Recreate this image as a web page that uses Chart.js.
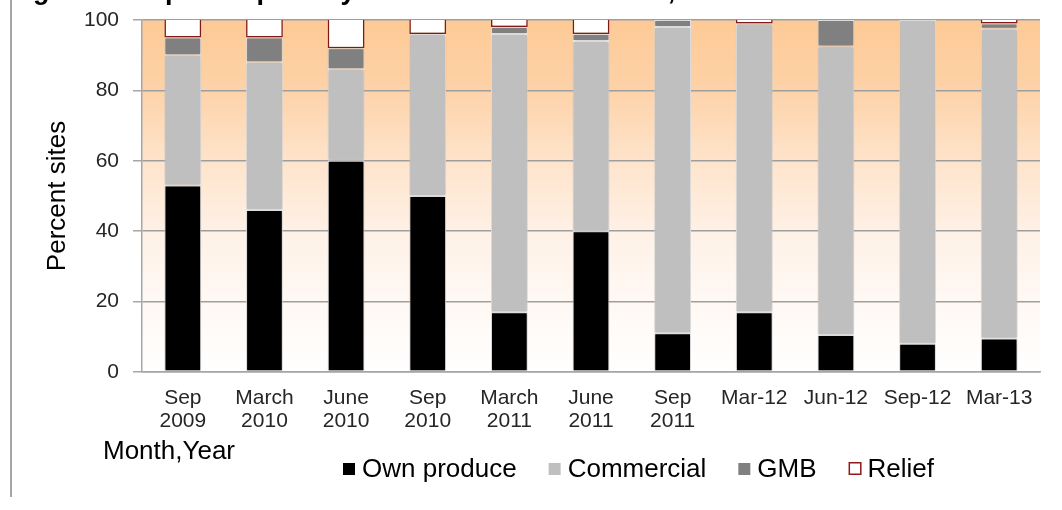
<!DOCTYPE html>
<html>
<head>
<meta charset="utf-8">
<title>Reported primary source of maize</title>
<script src="https://cdn.jsdelivr.net/npm/chart.js@4.4.1/dist/chart.umd.min.js"></script>
<style>
  html, body { margin: 0; padding: 0; background: #ffffff; }
  #wrap { width: 1062px; height: 510px; position: relative; }
  canvas { display: block; }
</style>
</head>
<body>
<div id="wrap"><canvas id="chart" width="1062" height="510"></canvas></div>
<script>
// Survey rounds (month, year)
const categories = [
  ['Sep', '2009'], ['March', '2010'], ['June', '2010'], ['Sep', '2010'],
  ['March', '2011'], ['June', '2011'], ['Sep', '2011'],
  'Mar-12', 'Jun-12', 'Sep-12', 'Mar-13'
];

// Percent of sites by primary source
const ownProduce = [53, 46, 60, 50, 17, 40, 11, 17, 10.5, 8, 9.5];
const commercial = [37, 42, 26, 46, 79, 54, 87, 82, 82, 92, 88];
const gmb        = [5, 7, 6, null, 2, 2, 2, null, 7.5, null, 1.5];
const relief     = [5, 5, 8, 4, 2, 4, null, 1, null, null, 1];

const yTicks = [0, 20, 40, 60, 80, 100];

const FONT = "'Liberation Sans', Arial, sans-serif";

// Peach-to-white wash behind the plot
const plotBackground = {
  id: 'plotBackground',
  beforeDraw(chart) {
    const { ctx, chartArea: a } = chart;
    const g = ctx.createLinearGradient(0, a.top, 0, a.bottom);
    g.addColorStop(0.00, '#FDCA96');
    g.addColorStop(0.18, '#FDD1A6');
    g.addColorStop(0.42, '#FEE5CE');
    g.addColorStop(0.62, '#FEF2E8');
    g.addColorStop(0.82, '#FFF9F5');
    g.addColorStop(1.00, '#FFFFFF');
    ctx.save();
    ctx.fillStyle = g;
    ctx.fillRect(a.left, a.top, a.right - a.left, a.bottom - a.top);
    ctx.restore();
  }
};

// Soft drop shadow under the bar segments
const barShadow = {
  id: 'barShadow',
  beforeDatasetsDraw(chart) {
    const ctx = chart.ctx;
    ctx.save();
    ctx.shadowColor = 'rgba(0,0,0,0.22)';
    ctx.shadowBlur = 4;
    ctx.shadowOffsetX = 0;
    ctx.shadowOffsetY = 0;
  },
  afterDatasetsDraw(chart) {
    chart.ctx.restore();
  }
};

// Frame line, caption, x-axis caption and legend
const decorations = {
  id: 'decorations',
  afterDraw(chart) {
    const ctx = chart.ctx;
    ctx.save();

    // left frame rule
    ctx.fillStyle = '#A6A6A6';
    ctx.fillRect(10, 0, 2, 497);

    // caption (clipped by the top edge)
    ctx.fillStyle = '#000000';
    ctx.font = 'bold 27px ' + FONT;
    ctx.textBaseline = 'alphabetic';
    ctx.textAlign = 'left';
    ctx.fillText('Figure 3: Reported primary source of maize at sites, 2009\u20132013', 9, -1);

    // x-axis caption
    ctx.font = '26px ' + FONT;
    ctx.fillText('Month,Year', 103, 459);

    // legend
    let x = 343;
    const boxTop = 463, box = 12, baseline = 477;
    chart.data.datasets.forEach(ds => {
      if (ds.label === 'Relief') {
        ctx.fillStyle = '#FFFFFF';
        ctx.fillRect(x, boxTop - 1, box + 1, box + 1);
        ctx.strokeStyle = ds.borderColor;
        ctx.lineWidth = 1.5;
        ctx.strokeRect(x + 0.75, boxTop - 0.25, box - 0.5, box - 0.5);
      } else {
        ctx.fillStyle = ds.backgroundColor;
        ctx.fillRect(x, boxTop, box, box);
      }
      ctx.fillStyle = '#000000';
      ctx.font = '26px ' + FONT;
      ctx.fillText(ds.label, x + 19, baseline);
      x += 19 + ctx.measureText(ds.label).width + 32;
    });

    ctx.restore();
  }
};

const segmentBorder = '#EFEFEF';

new Chart(document.getElementById('chart'), {
  type: 'bar',
  data: {
    labels: categories,
    datasets: [
      { label: 'Own produce', data: ownProduce, backgroundColor: '#000000',
        borderColor: segmentBorder, borderWidth: 1, borderSkipped: false },
      { label: 'Commercial', data: commercial, backgroundColor: '#BFBFBF',
        borderColor: segmentBorder, borderWidth: 1, borderSkipped: false },
      { label: 'GMB', data: gmb, backgroundColor: '#808080',
        borderColor: segmentBorder, borderWidth: 1, borderSkipped: false },
      { label: 'Relief', data: relief, backgroundColor: '#FFFFFF',
        borderColor: '#8E1B1B', borderWidth: 1.5, borderSkipped: 'top' }
    ]
  },
  options: {
    responsive: false,
    animation: false,
    devicePixelRatio: 1,
    layout: { padding: { left: 42, right: 22, top: 20, bottom: 68 } },
    datasets: { bar: { categoryPercentage: 1.0, barPercentage: 0.45 } },
    plugins: {
      legend: { display: false },
      title: { display: false },
      tooltip: { enabled: false }
    },
    scales: {
      x: {
        stacked: true,
        grid: { display: false, drawTicks: false },
        border: { display: true, color: '#A6A6A6', width: 1.5 },
        ticks: {
          color: '#262626',
          font: { family: FONT, size: 21, lineHeight: 1.12 },
          padding: 14,
          maxRotation: 0,
          autoSkip: false
        },
        afterFit(scale) {
          scale.height = 70;
          scale.paddingLeft = 0;
          scale.paddingRight = 0;
        }
      },
      y: {
        stacked: true,
        min: 0,
        max: 100,
        afterBuildTicks(scale) { scale.ticks = yTicks.map(v => ({ value: v })); },
        grid: { color: '#9E9E9E', lineWidth: 1.5, tickLength: 9, tickColor: '#A6A6A6' },
        border: { display: true, color: '#A6A6A6', width: 1.5 },
        ticks: {
          color: '#262626',
          font: { family: FONT, size: 21 },
          padding: 14
        },
        title: {
          display: true,
          text: 'Percent sites',
          color: '#000000',
          font: { family: FONT, size: 26 },
          padding: 0
        },
        afterFit(scale) {
          scale.width = 100;
          scale.paddingTop = 0;
          scale.paddingBottom = 0;
        }
      }
    }
  },
  plugins: [plotBackground, barShadow, decorations]
});
</script>
</body>
</html>
